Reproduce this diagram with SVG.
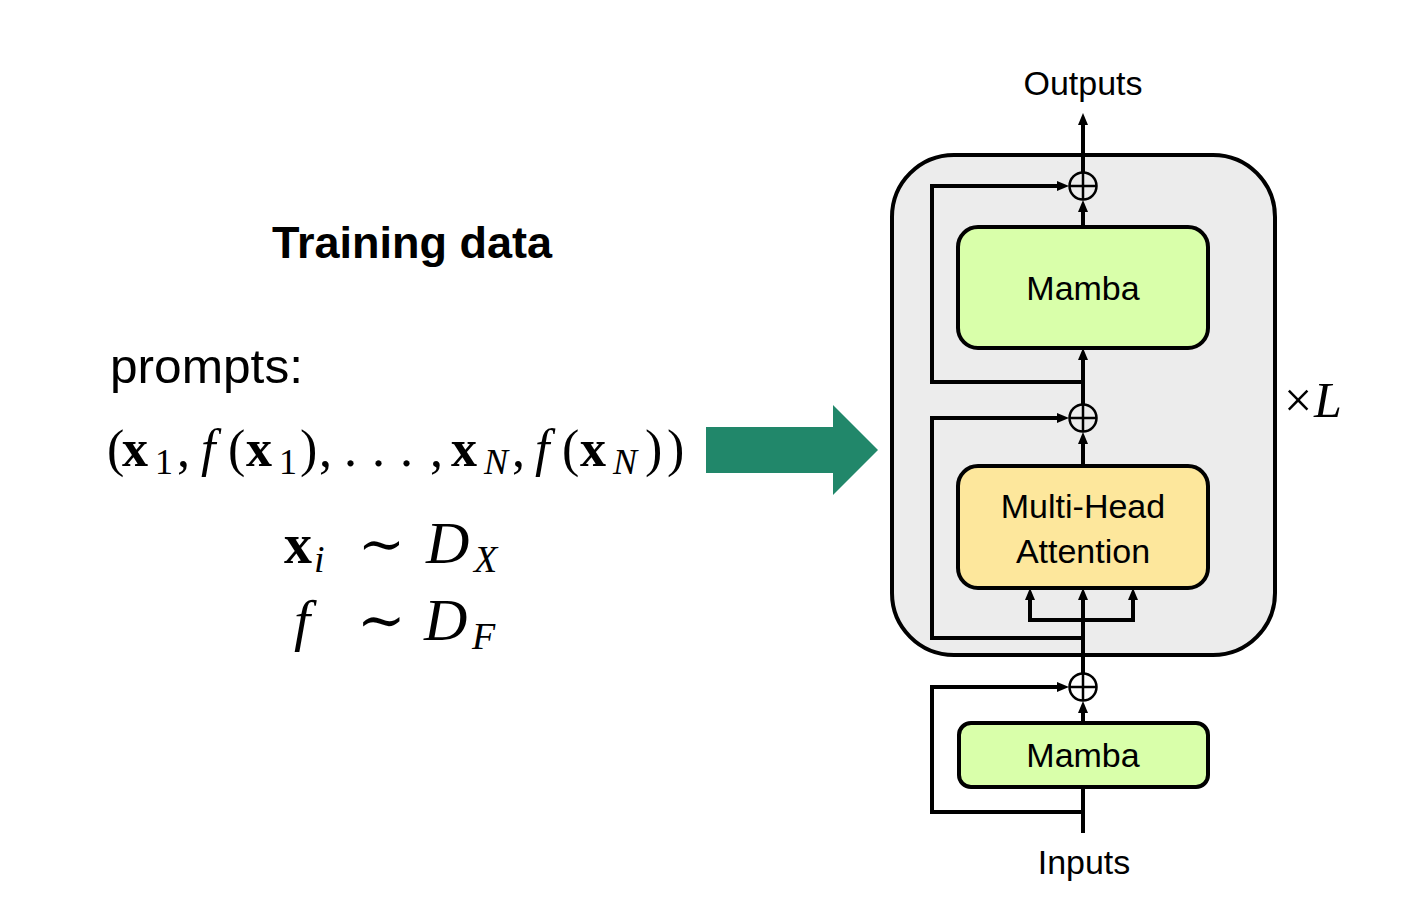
<svg xmlns="http://www.w3.org/2000/svg" width="1426" height="914" viewBox="0 0 1426 914">
<style>
.lbl{font-family:"Liberation Sans",Arial,sans-serif;font-size:34px;fill:#000;text-anchor:middle}
.math{font-family:"Liberation Serif","DejaVu Serif",serif;fill:#000}
.b{font-weight:bold}
.i{font-style:italic}
.wire{fill:none;stroke:#000;stroke-width:4;stroke-linejoin:miter}
.box{stroke:#000;stroke-width:4}
.sum{fill:none;stroke:#000;stroke-width:2.5}
</style>
<defs>
<marker id="ah" viewBox="0 0 12 10" refX="4" refY="5" markerWidth="12" markerHeight="10" markerUnits="userSpaceOnUse" orient="auto">
<path d="M0,0 L12,5 L0,10 z" fill="#000"/>
</marker>
</defs>
<rect width="1426" height="914" fill="#fff"/>

<g id="left-text">
<text x="412" y="258" font-family="'Liberation Sans',Arial,sans-serif" font-weight="bold" font-size="45" text-anchor="middle" textLength="280" lengthAdjust="spacingAndGlyphs">Training data</text>
<text x="110" y="383" font-family="'Liberation Sans',Arial,sans-serif" font-size="49" textLength="193" lengthAdjust="spacingAndGlyphs">prompts:</text>
<text class="math" y="466" font-size="52"><tspan x="107">(</tspan><tspan x="122" class="b">x</tspan><tspan x="155" font-size="36" dy="8">1</tspan><tspan x="177" dy="-8">,</tspan><tspan x="201" class="i">f</tspan><tspan x="228">(</tspan><tspan x="246" class="b">x</tspan><tspan x="279" font-size="36" dy="8">1</tspan><tspan x="300" dy="-8">)</tspan><tspan x="319">,</tspan><tspan x="344">.</tspan><tspan x="372">.</tspan><tspan x="400">.</tspan><tspan x="430">,</tspan><tspan x="451" class="b">x</tspan><tspan x="484" class="i" font-size="36" dy="8">N</tspan><tspan x="512" dy="-8">,</tspan><tspan x="535" class="i">f</tspan><tspan x="562">(</tspan><tspan x="580" class="b">x</tspan><tspan x="613" class="i" font-size="36" dy="8">N</tspan><tspan x="645" dy="-8">)</tspan><tspan x="667">)</tspan></text>
<text class="math" y="563" font-size="56"><tspan x="284" class="b">x</tspan><tspan x="314" class="i" font-size="38" dy="9">i</tspan><tspan x="358" dy="-9">∼</tspan><tspan x="426" class="i" font-size="60">D</tspan><tspan x="474" class="i" font-size="38" dy="9">X</tspan></text>
<text class="math" y="640" font-size="58"><tspan x="294" class="i">f</tspan><tspan x="357">∼</tspan><tspan x="424" class="i" font-size="60">D</tspan><tspan x="472" class="i" font-size="38" dy="9">F</tspan></text>
</g>

<g id="green-arrow">
<polygon points="706,427 833,427 833,405 878,450 833,495 833,473 706,473" fill="#21876a"/>
</g>

<g id="block">
<rect x="892" y="155" width="383" height="500" rx="62" ry="62" fill="#ececec" stroke="#000" stroke-width="4"/>
</g>

<g id="connectors">
<path class="wire" d="M1083,833 V787"/>
<path class="wire" d="M1083,723 V709" marker-end="url(#ah)"/>
<path class="wire" d="M1083,812 H932 V687 H1061" marker-end="url(#ah)"/>
<path class="wire" d="M1083,673 V596" marker-end="url(#ah)"/>
<path class="wire" d="M1083,620 H1030 V596" marker-end="url(#ah)"/>
<path class="wire" d="M1083,620 H1133 V596" marker-end="url(#ah)"/>
<path class="wire" d="M1083,638 H932 V418 H1061" marker-end="url(#ah)"/>
<path class="wire" d="M1083,466 V440" marker-end="url(#ah)"/>
<path class="wire" d="M1083,404 V356" marker-end="url(#ah)"/>
<path class="wire" d="M1083,382 H932 V186 H1061" marker-end="url(#ah)"/>
<path class="wire" d="M1083,227 V208" marker-end="url(#ah)"/>
<path class="wire" d="M1083,172 V121" marker-end="url(#ah)"/>
</g>

<g id="add-top">
<circle cx="1083" cy="186" r="13.5" fill="none" stroke="#000" stroke-width="2.5"/>
<path class="sum" d="M1069.5,186 H1096.5 M1083,172.5 V199.5"/>
</g>
<g id="add-mid">
<circle cx="1083" cy="418" r="13.5" fill="none" stroke="#000" stroke-width="2.5"/>
<path class="sum" d="M1069.5,418 H1096.5 M1083,404.5 V431.5"/>
</g>
<g id="add-bottom">
<circle cx="1083" cy="687" r="13.5" fill="none" stroke="#000" stroke-width="2.5"/>
<path class="sum" d="M1069.5,687 H1096.5 M1083,673.5 V700.5"/>
</g>

<g id="mamba-top">
<rect class="box" x="958" y="227" width="250" height="121" rx="20" fill="#d9ffaa"/>
<text class="lbl" x="1083" y="300">Mamba</text>
</g>
<g id="mha">
<rect class="box" x="958" y="466" width="250" height="122" rx="20" fill="#fde79c"/>
<text class="lbl" x="1083" y="518" font-size="35">Multi-Head</text>
<text class="lbl" x="1083" y="563" font-size="35">Attention</text>
</g>
<g id="mamba-bottom">
<rect class="box" x="959" y="723" width="249" height="64" rx="12" fill="#d9ffaa"/>
<text class="lbl" x="1083" y="767">Mamba</text>
</g>

<g id="labels">
<text class="lbl" x="1083" y="95">Outputs</text>
<text class="lbl" x="1084" y="874">Inputs</text>
<text font-family="'Liberation Serif',serif" y="417" font-size="50"><tspan x="1284">×</tspan><tspan x="1314" font-style="italic">L</tspan></text>
</g>
</svg>
